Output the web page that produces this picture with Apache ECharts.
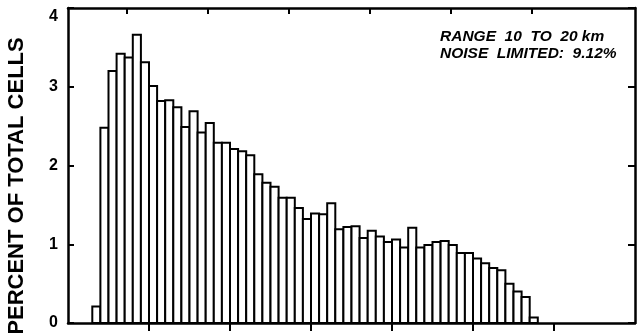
<!DOCTYPE html>
<html>
<head>
<meta charset="utf-8">
<script src="https://cdn.jsdelivr.net/npm/echarts@6/dist/echarts.min.js"></script>
<style>html,body{margin:0;padding:0;background:#fff}#c{width:637px;height:333px}</style>
</head>
<body>
<div id="c"></div>
<script>
// Histogram bin values (percent of total cells), one per bin, starting at bin index firstBin
const firstBin = 3;
const percentValues = [0.21, 2.48, 3.20, 3.42, 3.37, 3.66, 3.31, 3.01, 2.82, 2.83,
  2.74, 2.49, 2.69, 2.42, 2.54, 2.29, 2.29, 2.21, 2.18, 2.13,
  1.89, 1.78, 1.73, 1.59, 1.59, 1.46, 1.32, 1.39, 1.38, 1.52,
  1.19, 1.22, 1.23, 1.08, 1.17, 1.10, 1.03, 1.06, 0.96, 1.21,
  0.96, 0.99, 1.03, 1.04, 0.99, 0.89, 0.89, 0.82, 0.76, 0.70,
  0.67, 0.50, 0.40, 0.33, 0.07];
const xRange = [0, 70];
const bottomTicks = [10, 20, 30, 40, 50, 60];
const topTicks = [7.2, 17.2, 27.2, 37.2, 47.2, 57.2];
const yTicks = [0, 1, 2, 3, 4];
const yTitle = 'PERCENT OF TOTAL CELLS';
const noteLines = ['RANGE  10  TO  20 km', 'NOISE  LIMITED:  9.12%'];

const barData = percentValues.map((v, i) => [firstBin + i, v]);
const font = '"Liberation Sans", Arial, Helvetica, sans-serif';
const chart = echarts.init(document.getElementById('c'), null, {renderer: 'canvas'});
const lineStyle = {color: '#000', width: 2.5};
chart.setOption({
  animation: false,
  backgroundColor: '#fff',
  grid: {left: 68, right: 2, top: 8, bottom: 10, containLabel: false},
  xAxis: [
    {type: 'value', position: 'bottom', min: xRange[0], max: xRange[1], interval: 10,
      axisLine: {show: true, onZero: false, lineStyle: lineStyle},
      axisTick: {show: true, inside: false, length: 8, customValues: bottomTicks, lineStyle: {color: '#000', width: 2}},
      axisLabel: {show: false}, splitLine: {show: false}},
    {type: 'value', position: 'top', min: xRange[0], max: xRange[1], interval: 10,
      axisLine: {show: true, onZero: false, lineStyle: lineStyle},
      axisTick: {show: true, inside: true, length: 6, customValues: topTicks, lineStyle: {color: '#000', width: 2}},
      axisLabel: {show: false}, splitLine: {show: false}}
  ],
  yAxis: [
    {type: 'value', position: 'left', min: 0, max: 4, interval: 1,
      axisLine: {show: true, onZero: false, lineStyle: lineStyle},
      axisTick: {show: true, inside: true, length: 6, lineStyle: {color: '#000', width: 2}},
      axisLabel: {show: true, margin: 10, color: '#000', fontSize: 16, fontWeight: 'bold', fontFamily: font,
        customValues: yTicks,
        formatter: function (v) { return v === 4 ? '{t|4}' : String(v); },
        rich: {t: {fontSize: 16, fontWeight: 'bold', fontFamily: font, color: '#000', padding: [18, 0, 0, 0]}}},
      splitLine: {show: false}},
    {type: 'value', position: 'right', min: 0, max: 4, interval: 1,
      axisLine: {show: true, onZero: false, lineStyle: lineStyle},
      axisTick: {show: true, inside: true, length: 7, lineStyle: {color: '#000', width: 2}},
      axisLabel: {show: false}, splitLine: {show: false}}
  ],
  series: [{
    type: 'custom',
    xAxisIndex: 0, yAxisIndex: 0,
    data: barData,
    renderItem: function (params, api) {
      const x = api.value(0), y = api.value(1);
      const p0 = api.coord([x, y]);
      const p1 = api.coord([x + 1, 0]);
      return {type: 'rect', shape: {x: p0[0], y: p0[1], width: p1[0] - p0[0], height: p1[1] - p0[1]},
        style: {fill: '#fff', stroke: '#000', lineWidth: 2}};
    }
  }],
  graphic: [
    {type: 'text', x: 17, y: 186, rotation: Math.PI / 2,
      style: {text: yTitle, fill: '#000', font: 'bold 22px ' + font, align: 'center', verticalAlign: 'middle'}},
    {type: 'text', x: 440, y: 37,
      style: {text: noteLines[0], fill: '#000', font: 'italic bold 15.5px ' + font, align: 'left', verticalAlign: 'middle'}},
    {type: 'text', x: 440, y: 54,
      style: {text: noteLines[1], fill: '#000', font: 'italic bold 15.5px ' + font, align: 'left', verticalAlign: 'middle'}}
  ]
});
</script>
</body>
</html>
